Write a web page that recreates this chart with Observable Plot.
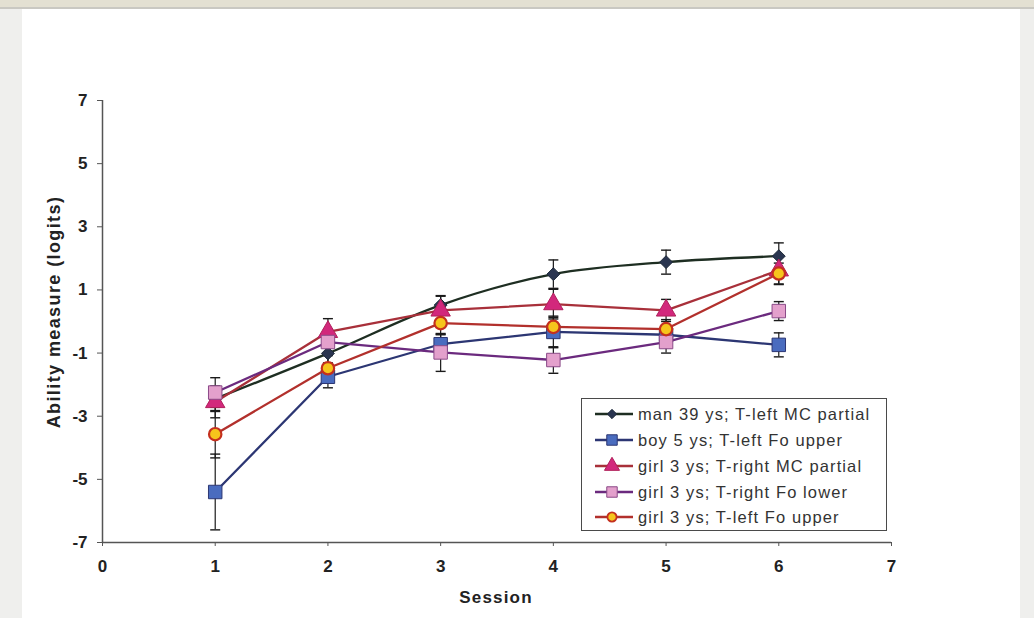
<!DOCTYPE html>
<html>
<head>
<meta charset="utf-8">
<script src="https://cdn.jsdelivr.net/npm/d3@7"></script>
<script src="https://cdn.jsdelivr.net/npm/@observablehq/plot@0.6"></script>
<style>
  html, body { margin: 0; padding: 0; }
  body { width: 1034px; height: 618px; position: relative; overflow: hidden; background: #efefed; font-family: "Liberation Sans", Arial, sans-serif; }
  #topbar { position: absolute; left: 0; top: 0; width: 1034px; height: 7px; background: #e3e0d2; border-bottom: 2px solid #c9c8c2; }
  #panel { position: absolute; left: 22px; top: 9px; width: 998px; height: 609px; background: #fff; }
  #chart { position: absolute; left: 0; top: 0; }
  .ylab { position: absolute; left: 54px; top: 312px; transform: translate(-50%, -50%) rotate(-90deg); white-space: nowrap; font-weight: bold; font-size: 18px; letter-spacing: 1.4px; color: #222; }
  .xlab { position: absolute; left: 496px; top: 598px; transform: translate(-50%, -50%); white-space: nowrap; font-weight: bold; font-size: 17px; letter-spacing: 1.2px; color: #222; }
  #legend { position: absolute; left: 581px; top: 398px; width: 304px; height: 131px; border: 1.5px solid #4a4a4a; background: #fff; box-sizing: content-box; }
  .row { position: absolute; left: 11px; height: 20px; display: flex; align-items: center; font-size: 16.5px; letter-spacing: 1.1px; color: #333; white-space: nowrap; }
  .row svg { margin-right: 3px; }
</style>
</head>
<body>
<div id="topbar"></div>
<div id="panel"></div>
<div id="chart"></div>
<div class="ylab">Ability measure (logits)</div>
<div class="xlab">Session</div>
<div id="legend"></div>
<script>
// ---- data ----
const sessions = [1, 2, 3, 4, 5, 6];
const seriesNames = [
  "man 39 ys; T-left MC partial",
  "boy 5 ys; T-left Fo upper",
  "girl 3 ys; T-right MC partial",
  "girl 3 ys; T-right Fo lower",
  "girl 3 ys; T-left Fo upper"
];
const manValues    = [-2.45, -1.01, 0.52, 1.50, 1.88, 2.07];
const manErrors    = [0.40, 0.30, 0.30, 0.45, 0.38, 0.42];
const boyValues    = [-5.40, -1.75, -0.72, -0.33, -0.42, -0.74];
const boyErrors    = [1.20, 0.35, 0.30, 0.50, 0.30, 0.38];
const triValues    = [-2.55, -0.33, 0.35, 0.55, 0.35, 1.62];
const triErrors    = [0.50, 0.42, 0.45, 0.47, 0.35, 0.45];
const pinkValues   = [-2.25, -0.65, -0.98, -1.22, -0.65, 0.33];
const pinkErrors   = [0.47, 0.40, 0.60, 0.42, 0.35, 0.30];
const yellowValues = [-3.57, -1.48, -0.05, -0.17, -0.24, 1.52];
const yellowErrors = [0.75, 0.40, 0.35, 0.30, 0.30, 0.33];
const xTicks = [0, 1, 2, 3, 4, 5, 6, 7];
const yTicks = [-7, -5, -3, -1, 1, 3, 5, 7];

const valueLists = [manValues, boyValues, triValues, pinkValues, yellowValues];
const errorLists = [manErrors, boyErrors, triErrors, pinkErrors, yellowErrors];

// ---- styles ----
const styles = [
  {line: "#1e2e22", symbol: "diamond2", r: 5.8, fill: "#2a3550", stroke: "#1e2a3a", sw: 1, curve: "monotone-x"},
  {line: "#2c3673", symbol: "square", r: 7.6, fill: "#4a6cbf", stroke: "#2c3673", sw: 1, curve: "linear"},
  {line: "#a8303a", symbol: "triangle", r: 7.2, fill: "#d2287c", stroke: "#b0205a", sw: 1, curve: "linear"},
  {line: "#6b2a7e", symbol: "square", r: 7.6, fill: "#e3a0cc", stroke: "#8a4a88", sw: 1, curve: "linear"},
  {line: "#b2302c", symbol: "circle", r: 6.2, fill: "#f6c51c", stroke: "#c4301e", sw: 2.2, curve: "linear"}
];

const table = [];
seriesNames.forEach((name, k) => {
  sessions.forEach((s, i) => table.push({series: name, k, session: s, value: valueLists[k][i], error: errorLists[k][i]}));
});

const capSymbol = {draw(ctx) { ctx.moveTo(-5, 0); ctx.lineTo(5, 0); }};

const marks = [];
// error bars
marks.push(Plot.ruleX(table, {x: "session", y1: d => d.value - d.error, y2: d => d.value + d.error, stroke: "#1a1a1a", strokeWidth: 1.2}));
marks.push(Plot.dot(table, {x: "session", y: d => d.value + d.error, symbol: capSymbol, fill: "none", stroke: "#1a1a1a", strokeWidth: 1.4}));
marks.push(Plot.dot(table, {x: "session", y: d => d.value - d.error, symbol: capSymbol, fill: "none", stroke: "#1a1a1a", strokeWidth: 1.4}));
// axes lines
marks.push(Plot.ruleX([0], {stroke: "#555", strokeWidth: 1.5}));
marks.push(Plot.ruleY([-7], {stroke: "#555", strokeWidth: 1.5}));
// series
styles.forEach((st, k) => {
  const rows = table.filter(d => d.k === k);
  marks.push(Plot.line(rows, {x: "session", y: "value", stroke: st.line, strokeWidth: 2.3, curve: st.curve}));
  marks.push(Plot.dot(rows, {x: "session", y: "value", symbol: st.symbol, r: st.r, fill: st.fill, stroke: st.stroke, strokeWidth: st.sw}));
});
marks.push(Plot.axisY({ticks: yTicks, tickSize: 5, tickPadding: 10, label: null, stroke: "#555", tickFormat: d => String(d)}));
marks.push(Plot.axisX({ticks: xTicks, tickSize: 4, tickPadding: 13, label: null, stroke: "#555", tickFormat: d => String(d)}));

const chart = Plot.plot({
  width: 1034,
  height: 618,
  marginLeft: 102,
  marginTop: 100,
  marginRight: 143,
  marginBottom: 76,
  x: {domain: [0, 7]},
  y: {domain: [-7, 7]},
  style: {background: "transparent", fontFamily: "'Liberation Sans', Arial, sans-serif", fontSize: "17px", fontWeight: "bold", color: "#222", overflow: "visible"},
  marks
});
document.getElementById("chart").appendChild(chart);

// ---- legend ----
const legend = document.getElementById("legend");
const rowTops = [5, 31, 57, 83, 108];
const legendSizes = [4.2, 5.9, 5.6, 5.9, 4.6];
seriesNames.forEach((name, k) => {
  const st = styles[k];
  const typeMap = {diamond2: d3.symbolDiamond2, square: d3.symbolSquare, triangle: d3.symbolTriangle, circle: d3.symbolCircle};
  const path = d3.symbol().type(typeMap[st.symbol]).size(legendSizes[k] * legendSizes[k] * Math.PI)();
  const row = document.createElement("div");
  row.className = "row";
  row.style.top = rowTops[k] + "px";
  row.innerHTML = `<svg width="42" height="20"><line x1="2" x2="40" y1="10" y2="10" stroke="${st.line}" stroke-width="2.3"/><path transform="translate(19,10)" d="${path}" fill="${st.fill}" stroke="${st.stroke}" stroke-width="${k === 4 ? 1.8 : 1}"/></svg><span>${name}</span>`;
  legend.appendChild(row);
});
</script>
</body>
</html>
